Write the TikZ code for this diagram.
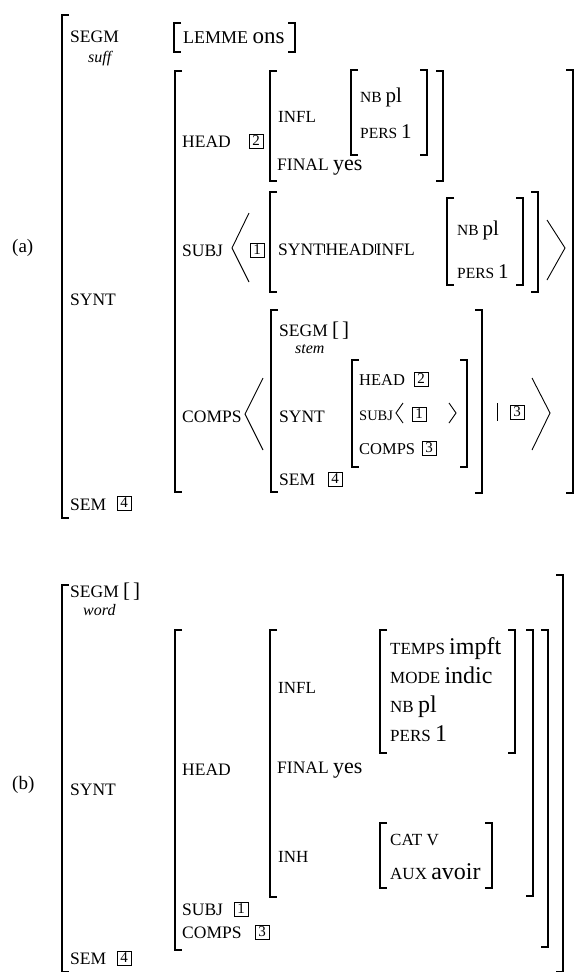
\documentclass[tikz,border=0pt]{standalone}
\usepackage{fontspec}
\setmainfont{Liberation Serif}
\newcommand\fz[1]{\fontsize{#1}{#1}\selectfont}
\newcommand\LB[3]{\draw[brk] (#1+7,#2) -- (#1,#2) -- (#1,#3) -- (#1+7,#3);}
\newcommand\RB[3]{\draw[brk] (#1-7,#2) -- (#1,#2) -- (#1,#3) -- (#1-7,#3);}
\newcommand\vbar{\kern0.5pt\raisebox{2pt}{\rule{0.7pt}{9pt}}\kern0.5pt}
\newcommand\emptybr{{\fz{21}[\kern3pt]}}
\begin{document}
\begin{tikzpicture}[x=1pt,y=-1pt,
  brk/.style={line width=1.4pt},
  ang/.style={line width=0.9pt},
  lab/.style={anchor=base west, inner sep=0pt, font=\fz{17.5}},
  ita/.style={anchor=base west, inner sep=0pt, font=\fz{16}\itshape},
  bx/.style={draw, line width=0.9pt, inner sep=0pt, minimum width=14pt, minimum height=14pt, font=\fz{15}}]
\useasboundingbox (0,0) rectangle (580,972);
%%%%%%%%%%%%%%%% (a)
\node[lab,font=\fz{19}] (la) at (12,252) {(a)};
\LB{62}{15}{518}
\node[lab] (a-segm) at (70,42) {SEGM};
\node[ita] (a-suff) at (88,62) {suff};
\LB{174}{23}{52} \RB{295}{23}{52}
\node[lab] (a-lemme) at (183,43) {\fz{18}LEMME \fz{23}ons};
\node[lab] (a-synt) at (70,305) {SYNT};
\node[lab] (a-sem) at (70,510) {SEM};
\node[bx] (a-b4) at (124,503) {4};
% SYNT value
\LB{175}{71}{492} \RB{573}{70}{493}
\node[lab] (a-head) at (182,147) {HEAD};
\node[bx] (a-b2) at (256,141) {2};
\LB{270}{71}{181} \RB{443}{71}{181}
\node[lab,font=\fz{17}] (a-infl) at (278,122) {INFL};
\node[lab] (a-final) at (277,170) {FINAL \fz{22}yes};
\LB{351}{70}{155} \RB{427}{70}{155}
\node[lab] (a-nb) at (360,102) {\fz{15.5}NB \fz{21}pl};
\node[lab] (a-pers) at (360,138) {\fz{15.5}PERS \fz{21}1};
% SUBJ
\node[lab] (a-subj) at (182,256) {SUBJ};
\draw[ang] (249,213) -- (232,248) -- (249,282);
\node[bx] (a-b1) at (257,250) {1};
\LB{270}{192}{292} \RB{538}{192}{292}
\node[lab] (a-path) at (278,255) {SYNT\vbar HEAD\vbar INFL};
\LB{447}{198}{285} \RB{523}{198}{285}
\node[lab] (a-nb2) at (457,235) {\fz{15.5}NB \fz{21}pl};
\node[lab] (a-pers2) at (457,278) {\fz{15.5}PERS \fz{21}1};
\draw[ang] (547,220) -- (565,248) -- (547,280);
% COMPS
\node[lab] (a-comps) at (182,422) {COMPS};
\draw[ang] (263,378) -- (245,414) -- (263,450);
\LB{271}{310}{492} \RB{482}{310}{493}
\node[lab] (a-segm2) at (279,336) {SEGM \emptybr};
\node[ita] (a-stem) at (295,353) {stem};
\node[lab] (a-synt2) at (279,422) {SYNT};
\node[lab] (a-sem2) at (279,485) {SEM};
\node[bx] (a-b4b) at (335,479) {4};
\LB{352}{360}{467} \RB{467}{360}{467}
\node[lab,font=\fz{16.5}] (a-head2) at (359,385) {HEAD};
\node[bx] (a-b2b) at (421,379) {2};
\node[lab,font=\fz{14.5}] (a-subj2) at (359,420) {SUBJ};
\draw[ang] (403,403) -- (396,413) -- (403,423);
\node[bx] (a-b1b) at (419,414) {1};
\draw[ang] (449,403) -- (456,413) -- (449,423);
\node[lab,font=\fz{16.5}] (a-comps2) at (359,454) {COMPS};
\node[bx] (a-b3b) at (429,448) {3};
\draw[line width=0.9pt] (497,403) -- (497,421);
\node[bx] (a-b3c) at (517,412) {3};
\draw[ang] (532,378) -- (550,413) -- (532,450);
%%%%%%%%%%%%%%%% (b)
\node[lab,font=\fz{19}] (lb) at (12,789) {(b)};
\LB{62}{585}{972} \RB{563}{575}{972}
\node[lab] (b-segm) at (70,597) {SEGM \emptybr};
\node[ita] (b-word) at (83,615) {word};
\node[lab] (b-synt) at (70,795) {SYNT};
\node[lab] (b-sem) at (70,964) {SEM};
\node[bx] (b-b4) at (124,958) {4};
\LB{175}{630}{950} \RB{548}{630}{947}
\node[lab] (b-head) at (182,775) {HEAD};
\LB{270}{630}{897} \RB{533}{630}{896}
\node[lab,font=\fz{17}] (b-infl) at (278,693) {INFL};
\LB{380}{630}{753} \RB{515}{630}{753}
\node[lab] (b-temps) at (390,654) {\fz{17}TEMPS \fz{24}impft};
\node[lab] (b-mode) at (390,683) {\fz{17}MODE \fz{24}indic};
\node[lab] (b-nb) at (390,712) {\fz{17}NB \fz{24}pl};
\node[lab] (b-pers) at (390,741) {\fz{17}PERS \fz{24}1};
\node[lab] (b-final) at (277,773) {FINAL \fz{22}yes};
\node[lab,font=\fz{17}] (b-inh) at (278,862) {INH};
\LB{380}{823}{888} \RB{492}{823}{888}
\node[lab] (b-cat) at (390,845) {\fz{17}CAT V};
\node[lab] (b-aux) at (390,879) {\fz{17}AUX \fz{24}avoir};
\node[lab] (b-subj) at (182,915) {SUBJ};
\node[bx] (b-b1) at (241,909) {1};
\node[lab] (b-comps) at (182,938) {COMPS};
\node[bx] (b-b3) at (262,932) {3};
\end{tikzpicture}
\end{document}
